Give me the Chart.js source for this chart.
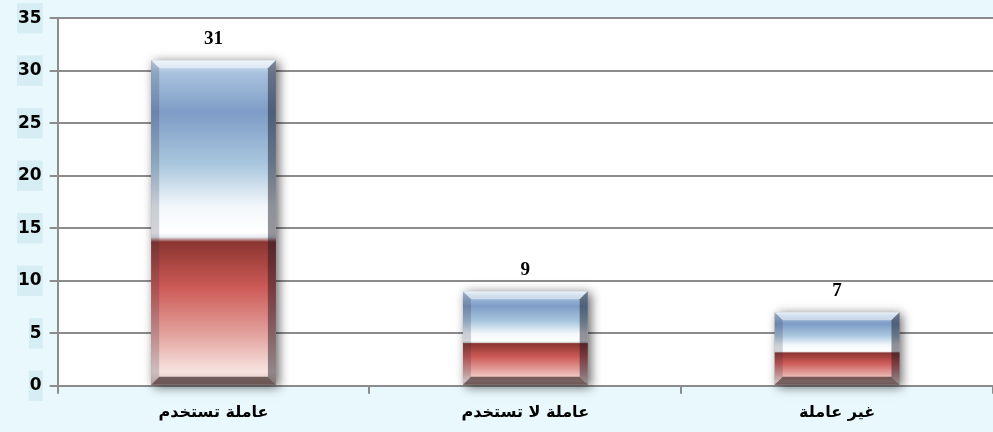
<!DOCTYPE html>
<html>
<head>
<meta charset="utf-8">
<script src="https://cdn.jsdelivr.net/npm/chart.js@4.4.0/dist/chart.umd.min.js"></script>
<style>
  html, body { margin: 0; padding: 0; background: #e8f8fd; }
  #wrap { width: 993px; height: 432px; }
</style>
</head>
<body>
<div id="wrap"><canvas id="c"></canvas></div>
<script>
const categories = ["عاملة تستخدم", "عاملة لا تستخدم", "غير عاملة"];
const counts = [31, 9, 7];
const yTicks = [0, 5, 10, 15, 20, 25, 30, 35];

// white plot area on the cyan page
const plotBg = {
  id: "plotBg",
  beforeDraw(chart) {
    const { ctx, chartArea: a } = chart;
    ctx.save();
    ctx.fillStyle = "#ffffff";
    ctx.fillRect(a.left, a.top, a.right - a.left, a.bottom - a.top);
    ctx.restore();
  }
};

function barGradient(ctx, top, base) {
  const g = ctx.createLinearGradient(0, top, 0, base);
  g.addColorStop(0.00, "#dbe9f6");
  g.addColorStop(0.04, "#a8c2de");
  g.addColorStop(0.16, "#7e9cc6");
  g.addColorStop(0.32, "#a9c6de");
  g.addColorStop(0.45, "#f2f7fb");
  g.addColorStop(0.53, "#ffffff");
  g.addColorStop(0.545, "#e8ecf0");
  g.addColorStop(0.56, "#8b3531");
  g.addColorStop(0.70, "#cd5a56");
  g.addColorStop(0.85, "#e4a5a1");
  g.addColorStop(0.96, "#f8e4e0");
  g.addColorStop(1.00, "#d8c0bc");
  return g;
}

// glassy bars: shadow, gradient, bevel edges, value labels
const glassBars = {
  id: "glassBars",
  afterDatasetsDraw(chart) {
    const ctx = chart.ctx;
    const meta = chart.getDatasetMeta(0);
    meta.data.forEach((el, i) => {
      const l = el.x - el.width / 2, r = el.x + el.width / 2;
      const t = el.y, b = el.base, e = 8;
      ctx.save();
      ctx.shadowColor = "rgba(0,0,0,0.6)";
      ctx.shadowBlur = 10;
      ctx.shadowOffsetX = 3;
      ctx.shadowOffsetY = 2;
      ctx.fillStyle = "#888";
      ctx.fillRect(l, t, r - l, b - t);
      ctx.restore();

      ctx.save();
      ctx.fillStyle = barGradient(ctx, t, b);
      ctx.fillRect(l, t, r - l, b - t);
      const poly = (pts, fill) => {
        ctx.beginPath();
        ctx.moveTo(pts[0][0], pts[0][1]);
        pts.slice(1).forEach(p => ctx.lineTo(p[0], p[1]));
        ctx.closePath();
        ctx.fillStyle = fill;
        ctx.fill();
      };
      poly([[l, t], [r, t], [r - e, t + e], [l + e, t + e]], "rgba(255,255,255,0.5)");
      poly([[l, t], [l + e, t + e], [l + e, b - e], [l, b]], "rgba(40,40,60,0.2)");
      poly([[r, t], [r, b], [r - e, b - e], [r - e, t + e]], "rgba(20,20,30,0.45)");
      poly([[l, b], [l + e, b - e], [r - e, b - e], [r, b]], "rgba(40,20,20,0.62)");
      ctx.fillStyle = "#000";
      ctx.font = "bold 19px 'Liberation Serif', serif";
      ctx.textAlign = "center";
      ctx.textBaseline = "middle";
      ctx.fillText(String(counts[i]), el.x, t - 21);
      ctx.restore();
    });
  }
};

new Chart(document.getElementById("c"), {
  type: "bar",
  data: {
    labels: categories,
    datasets: [{
      data: counts,
      backgroundColor: "rgba(0,0,0,0)",
      borderWidth: 0,
      barPercentage: 0.4,
      categoryPercentage: 1.0
    }]
  },
  options: {
    responsive: true,
    maintainAspectRatio: false,
    animation: false,
    layout: { padding: { left: 10, right: 0, top: 7, bottom: 1 } },
    plugins: { legend: { display: false }, tooltip: { enabled: false } },
    scales: {
      x: {
        grid: { drawOnChartArea: false, offset: true, tickLength: 8, color: "#8c8c8c", lineWidth: 2 },
        border: { display: false },
        ticks: {
          color: "#000",
          font: { family: "'DejaVu Sans', sans-serif", weight: "bold", size: 16 },
          padding: 9
        }
      },
      y: {
        min: 0,
        max: 35,
        afterBuildTicks(axis) { axis.ticks = yTicks.map(v => ({ value: v })); },
        grid: { color: "#8c8c8c", lineWidth: 2, tickLength: 8 },
        border: { color: "#8c8c8c", width: 2 },
        ticks: {
          color: "#000",
          font: { family: "'DejaVu Sans', sans-serif", weight: "bold", size: 17 },
          padding: 8,
          showLabelBackdrop: true,
          backdropColor: "#d6edf3",
          backdropPadding: { x: 1, y: 5 }
        }
      }
    }
  },
  plugins: [plotBg, glassBars]
});
</script>
</body>
</html>
